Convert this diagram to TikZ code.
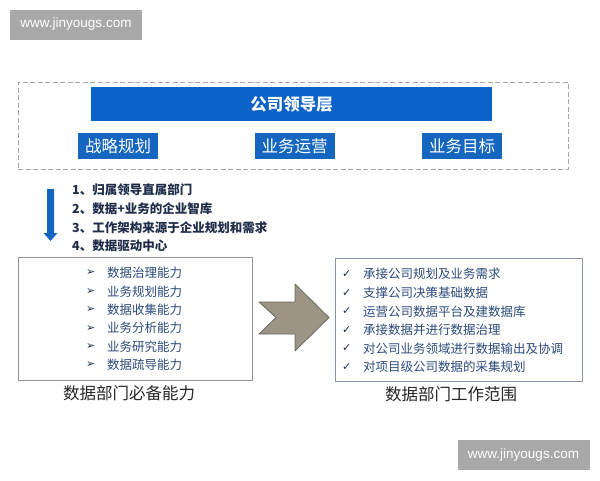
\documentclass[tikz,border=0pt]{standalone}
\usepackage{fontspec}
\newfontfamily\cjk{Noto Sans CJK SC}
\newfontfamily\sym{DejaVu Sans}
\newfontfamily\web{Liberation Sans}
\usetikzlibrary{positioning}
\definecolor{barblue}{HTML}{0B63C9}
\definecolor{boxblue}{HTML}{1566C0}
\definecolor{navy}{HTML}{1F2D4A}
\definecolor{itemblue}{HTML}{2C4A7A}
\definecolor{arrowfill}{HTML}{9C9585}
\definecolor{arrowline}{HTML}{6B675E}
\definecolor{markgray}{HTML}{A8A8A8}
\definecolor{scopeline}{HTML}{8494AA}
\tikzset{
  goalbox/.style={fill=boxblue, text=white, inner sep=0pt, minimum width=80pt, minimum height=26pt, font=\cjk\fontsize{16.5}{18}\selectfont},
  listbox/.style={draw=gray!85, line width=0.9pt, inner sep=0pt},
  item/.style={anchor=west, inner sep=0pt, text=itemblue, font=\cjk\fontsize{12.5}{15}\selectfont},
  bulletmark/.style={anchor=west, inner sep=0pt, text=navy, font=\sym\fontsize{11}{12}\selectfont},
  caption/.style={inner sep=0pt, text=black!85, font=\cjk\fontsize{16.5}{18}\selectfont},
  watermark/.style={fill=markgray, text=white, inner sep=0pt, minimum width=132pt, minimum height=30pt, font=\web\fontsize{13.5}{15}\selectfont}
}
\begin{document}
\begin{tikzpicture}[x=1pt, y=-1pt, line join=round]
\useasboundingbox (0,0) rectangle (600,480);
% watermarks
\node[watermark] (markA) at (76,24.5) {www.jinyougs.com};
\node[watermark] (markB) at (523.5,455) {www.jinyougs.com};
% leadership block
\node[draw=gray!70, dash pattern=on 5pt off 2.5pt, line width=1pt, minimum width=550pt, minimum height=87pt, inner sep=0pt] (lead) at (293,125.5) {};
\node[fill=barblue, text=white, inner sep=0pt, minimum width=401pt, minimum height=34pt, font=\cjk\bfseries\fontsize{16.5}{18}\selectfont] (head) at (291.5,104) {公司领导层};
\node[goalbox] (plan) at (118,146) {战略规划};
\node[goalbox] (oper) at (294.5,146) {业务运营};
\node[goalbox] (target) at (462,146) {业务目标};
% down arrow
\fill[boxblue] (47,189) -- (54,189) -- (54,233) -- (57.5,233) -- (50.5,241) -- (43.5,233) -- (47,233) -- cycle;
\foreach \t [count=\i] in {归属领导直属部门, 数据+业务的企业智库, 工作架构来源于企业规划和需求, 数据驱动中心}
  \node[item, text=navy, font=\cjk\bfseries\fontsize{12.5}{15}\selectfont] (note\i) at (72,171.5+18.6*\i) {\i、\t};
% abilities
\node[listbox, minimum width=234pt, minimum height=123pt] (skills) at (135,318.5) {};
\foreach \t [count=\i] in {数据治理能力, 业务规划能力, 数据收集能力, 业务分析能力, 业务研究能力, 数据疏导能力} {
  \node[item] (skill\i) at (107,254.6+18.4*\i) {\t};
  \node[bulletmark] (bul\i) at (86,254.6+18.4*\i) {➢};
}
\node[caption] (skillcap) at (129,393) {数据部门必备能力};
% big arrow
\filldraw[fill=arrowfill, draw=arrowline, line width=0.8pt] (259,302) -- (295,302) -- (295,284) -- (329,317.5) -- (295,351) -- (295,334) -- (259,334) -- (276,317.5) -- cycle;
% scope of work
\node[listbox, draw=scopeline, minimum width=247pt, minimum height=123pt] (scope) at (458.5,319.5) {};
\foreach \t [count=\i] in {承接公司规划及业务需求, 支撑公司决策基础数据, 运营公司数据平台及建数据库, 承接数据并进行数据治理, 对公司业务领域进行数据输出及协调, 对项目级公司数据的采集规划} {
  \node[item] (task\i) at (363,255.5+18.6*\i) {\t};
  \node[bulletmark] (chk\i) at (342,255.5+18.6*\i) {✓};
}
\node[caption] (scopecap) at (451,394) {数据部门工作范围};
\end{tikzpicture}
\end{document}
